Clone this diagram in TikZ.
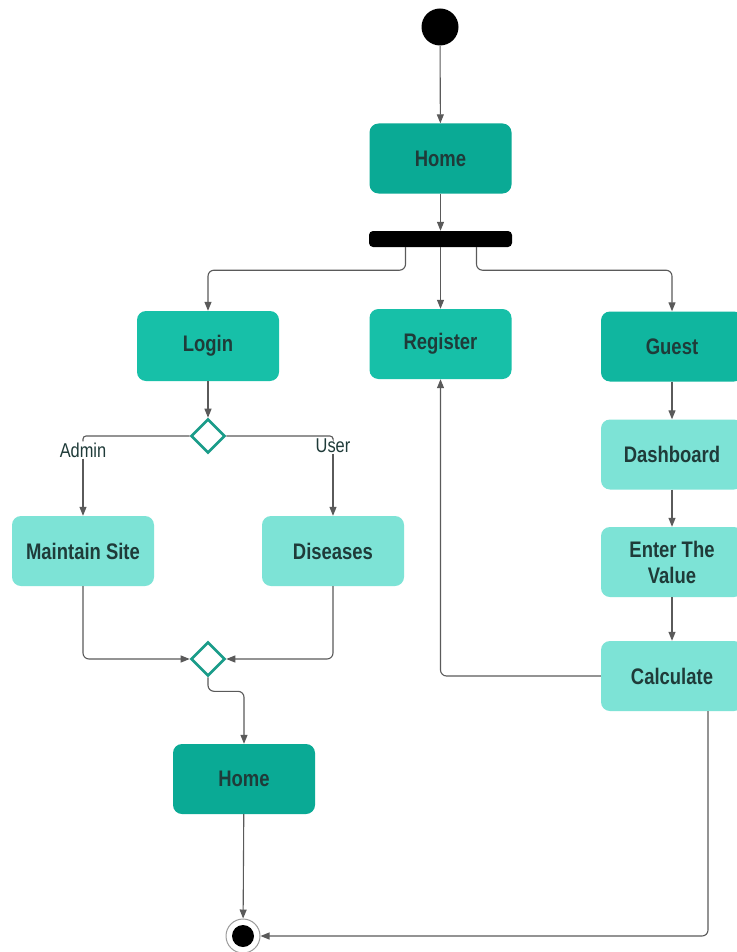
\documentclass[tikz,border=0pt]{standalone}
\usepackage{fontspec}
\setmainfont[FakeStretch=0.82]{Liberation Sans}
\usetikzlibrary{shapes.geometric,arrows.meta}
\definecolor{tdark}{HTML}{0AAA95}
\definecolor{tmid}{HTML}{17C0A8}
\definecolor{tguest}{HTML}{10B69F}
\definecolor{tlight}{HTML}{7DE3D6}
\definecolor{txt}{HTML}{1F3B39}
\definecolor{ln}{HTML}{5A5A5A}
\definecolor{dia}{HTML}{1A9C89}
\tikzset{
  box/.style={rounded corners=9pt, minimum width=142pt, minimum height=70pt, inner sep=0pt,
    align=center, text=txt, font=\fontsize{22.5}{27}\selectfont\bfseries},
  darkbox/.style={box, fill=tdark},
  midbox/.style={box, fill=tmid},
  guestbox/.style={box, fill=tguest},
  lightbox/.style={box, fill=tlight},
  lbl/.style={text=txt, font=\fontsize{20}{23}\selectfont, inner sep=1pt},
  conn/.style={draw=ln, line width=1.1pt, rounded corners=6pt},
  arr/.style={conn, -{Triangle[length=9pt,width=7pt]}},
  dec/.style={diamond, draw=dia, line width=2.6pt, fill=white, minimum width=34pt, minimum height=34pt, inner sep=0pt, aspect=1}
}
\begin{document}
\begin{tikzpicture}[x=1pt,y=-1pt]
\useasboundingbox (0,0) rectangle (736,952);
\fill[white] (0,0) rectangle (736,952);
% nodes
\node[circle, fill=black, minimum size=37pt, inner sep=0pt] (start) at (440,27) {};
\node[darkbox] (home) at (440.5,158.5) {Home};
\node[fill=black, rounded corners=4pt, minimum width=143pt, minimum height=16pt, inner sep=0pt] (fork) at (440.5,239) {};
\node[midbox] (login) at (208,346) {Login};
\node[midbox] (reg) at (440.5,344) {Register};
\node[guestbox] (guest) at (672,346.5) {Guest};
\node[dec] (d1) at (208,436) {};
\node[lbl] (admin) at (83,450) {Admin};
\node[lbl] (user) at (333,446) {User};
\node[lightbox] (maint) at (83,551) {Maintain Site};
\node[lightbox] (dis) at (333,551) {Diseases};
\node[dec] (d2) at (208,659) {};
\node[darkbox] (home2) at (244,779) {Home};
\node[lightbox] (dash) at (672,454.5) {Dashboard};
\node[lightbox] (enter) at (672,562) {Enter The\\[-1pt]Value};
\node[lightbox] (calc) at (672,676) {Calculate};
\node[circle, draw=ln!60, line width=1pt, fill=white, minimum size=34pt, inner sep=0pt] (end) at (243,936) {};
\node[circle, fill=black, minimum size=22pt, inner sep=0pt] (endin) at (end.center) {};
% connectors
\draw[arr] (start) -- (home);
\draw[arr] (home) -- (fork);
\draw[arr] ([xshift=-35pt]fork.south) -- ++(0,23) -| (login.north);
\draw[arr] (fork.south) -- (reg.north);
\draw[arr] ([xshift=36pt]fork.south) -- ++(0,23) -| (guest.north);
\draw[arr] (login) -- (d1);
\draw[conn, rounded corners=3pt] (d1.west) -| (admin.north);
\draw[conn, rounded corners=3pt] (d1.east) -| (user.north);
\draw[arr] (admin.south) -- (maint.north);
\draw[arr] (user.south) -- (dis.north);
\draw[arr] (maint.south) |- (d2.west);
\draw[arr] (dis.south) |- (d2.east);
\draw[arr] (d2.south) -- ++(0,14) -| (home2.north);
\draw[arr] (home2) -- (end);
\draw[arr] (guest) -- (dash);
\draw[arr] (dash) -- (enter);
\draw[arr] (enter) -- (calc);
\draw[arr] (calc.west) -| (reg.south);
\draw[arr] ([xshift=36pt]calc.south) |- (end.east);
\end{tikzpicture}
\end{document}
